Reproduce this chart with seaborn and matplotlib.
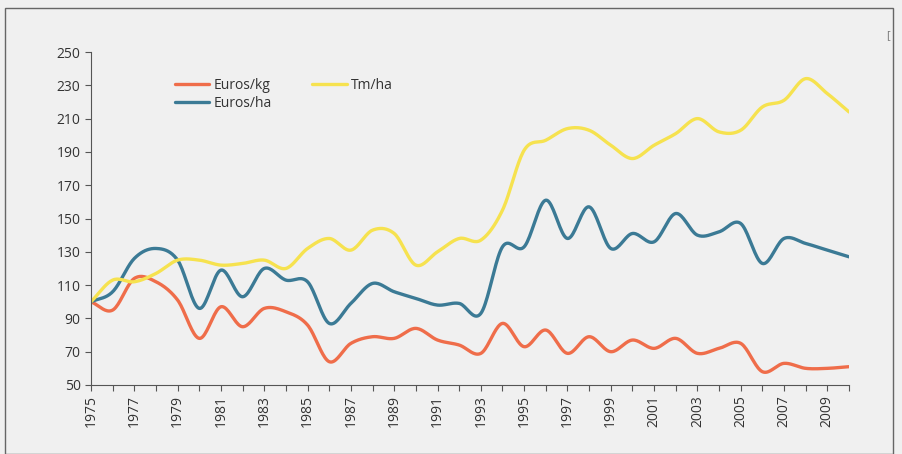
import numpy as np
import pandas as pd
import matplotlib
matplotlib.use("Agg")
import matplotlib.pyplot as plt
import seaborn as sns
from matplotlib.patches import Rectangle
from matplotlib.lines import Line2D

years = list(range(1975, 2011))
euros_kg = [100, 95, 114, 112, 101, 78, 97, 85, 96, 94, 86, 64, 75, 79, 78, 84, 77, 74, 69, 87,
            73, 83, 69, 79, 70, 77, 72, 78, 69, 72, 75, 58, 63, 60, 60, 61]
euros_ha = [100, 106, 126, 132, 125, 96, 119, 103, 120, 113, 112, 87, 99, 111, 106, 102, 98, 99, 93, 133,
            133, 161, 138, 157, 132, 141, 136, 153, 140, 142, 147, 123, 138, 135, 131, 127]
tm_ha = [100, 113, 112, 117, 125, 125, 122, 123, 125, 120, 132, 138, 131, 143, 141, 122, 130, 138, 137, 155,
         191, 197, 204, 203, 194, 186, 194, 201, 210, 202, 203, 217, 221, 234, 225, 214]
series_names = ["Euros/kg", "Euros/ha", "Tm/ha"]
series_colors = ["#ef6d4a", "#3b7a95", "#f6e24f"]
xtick_labels = [str(y) for y in range(1975, 2010, 2)]
yticks = list(range(50, 251, 20))


def smooth(x, y, n=20):
    # Catmull-Rom style smoothing (like spreadsheet "smoothed line")
    x = np.asarray(x, float)
    y = np.asarray(y, float)
    px = np.concatenate([[2 * x[0] - x[1]], x, [2 * x[-1] - x[-2]]])
    py = np.concatenate([[2 * y[0] - y[1]], y, [2 * y[-1] - y[-2]]])
    xs, ys = [], []
    t = np.linspace(0, 1, n, endpoint=False)
    for i in range(1, len(px) - 2):
        p0, p1, p2, p3 = py[i - 1], py[i], py[i + 1], py[i + 2]
        q0, q1, q2, q3 = px[i - 1], px[i], px[i + 1], px[i + 2]
        ys.append(0.5 * ((2 * p1) + (-p0 + p2) * t + (2 * p0 - 5 * p1 + 4 * p2 - p3) * t ** 2
                         + (-p0 + 3 * p1 - 3 * p2 + p3) * t ** 3))
        xs.append(0.5 * ((2 * q1) + (-q0 + q2) * t + (2 * q0 - 5 * q1 + 4 * q2 - q3) * t ** 2
                         + (-q0 + 3 * q1 - 3 * q2 + q3) * t ** 3))
    xs.append([x[-1]])
    ys.append([y[-1]])
    return np.concatenate(xs), np.concatenate(ys)


frames = []
for name, vals in zip(series_names, [euros_kg, euros_ha, tm_ha]):
    sx, sy = smooth(years, vals)
    frames.append(pd.DataFrame({"year": sx, "value": sy, "series": name}))
df = pd.concat(frames, ignore_index=True)

sns.set_style("white")
plt.rcParams["font.family"] = ["Open Sans", "DejaVu Sans"]

fig = plt.figure(figsize=(9.03, 4.54), dpi=100, facecolor="#f0f0f0")
ax = fig.add_axes([91 / 903, 1 - 385 / 454, (849 - 91) / 903, (385 - 52) / 454])
ax.set_facecolor("#f0f0f0")

sns.lineplot(data=df, x="year", y="value", hue="series", hue_order=series_names,
             palette=dict(zip(series_names, series_colors)), estimator=None,
             sort=False, linewidth=2.4, ax=ax, legend=False)

handles = [Line2D([], [], color=c, lw=2.4) for c in series_colors]
ax.legend(handles, series_names, ncol=2, frameon=False, loc="upper left",
          bbox_to_anchor=(0.094, 0.96), fontsize=10, handlelength=2.5, handletextpad=0.3,
          columnspacing=2.9, labelspacing=0.2, labelcolor="#333333")

ax.set_xlim(1975, 2010)
ax.set_ylim(50, 250)
ax.set_yticks(yticks)
ax.set_xticks(range(1975, 2011), minor=True)
ax.set_xticks(list(range(1975, 2010, 2)))
ax.set_xticklabels(xtick_labels, rotation=90)
ax.tick_params(axis="both", which="both", direction="out", length=4, width=0.8,
               color="#555555", labelsize=10, labelcolor="#333333")
ax.tick_params(axis="x", which="both", bottom=True)
ax.tick_params(axis="y", left=True)
ax.set_xlabel("")
ax.set_ylabel("")
for s in ["top", "right"]:
    ax.spines[s].set_visible(False)
for s in ["left", "bottom"]:
    ax.spines[s].set_color("#555555")
    ax.spines[s].set_linewidth(0.8)

fig.patches.append(Rectangle((5 / 903, 0), 888 / 903, 1 - 8 / 454, transform=fig.transFigure,
                             fill=False, edgecolor="#666666", linewidth=1.0))
fig.text(886 / 903, 1 - 38 / 454, "[", fontsize=8, color="#777777")

fig.savefig("out.png", dpi=100, facecolor=fig.get_facecolor())
